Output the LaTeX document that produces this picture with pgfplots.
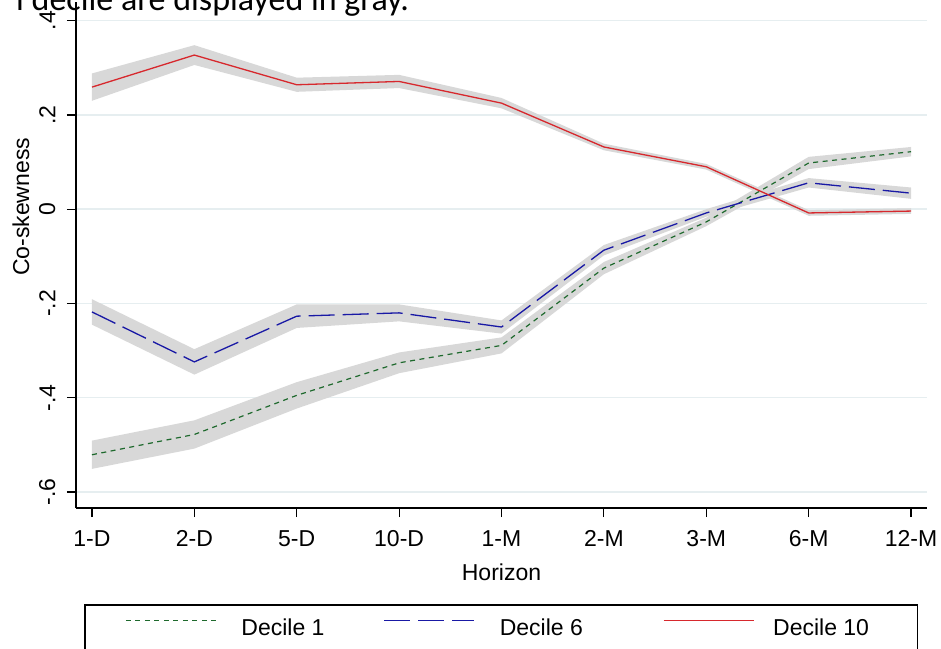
\documentclass[border=0pt]{standalone}
\usepackage{pgfplots}
\pgfplotsset{compat=1.18}
\usepackage{pgfplotstable}
\usepgfplotslibrary{fillbetween}
\usepackage{fontspec}
\setmainfont{Liberation Sans}
\newfontfamily\capfont{Carlito}
\definecolor{band}{RGB}{216,216,216}
\definecolor{gridc}{RGB}{230,238,240}
\definecolor{dgreen}{RGB}{30,105,45}
\definecolor{dblue}{RGB}{25,25,165}
\definecolor{dred}{RGB}{215,40,45}

\pgfplotstableread{
x r rl rh b bl bh g gl gh
0 0.259 0.230 0.288 -0.218 -0.245 -0.191 -0.521 -0.551 -0.491
1 0.327 0.306 0.348 -0.324 -0.351 -0.297 -0.478 -0.508 -0.448
2 0.264 0.249 0.279 -0.227 -0.252 -0.202 -0.395 -0.423 -0.367
3 0.271 0.257 0.285 -0.220 -0.238 -0.202 -0.326 -0.348 -0.304
4 0.225 0.214 0.236 -0.250 -0.264 -0.236 -0.289 -0.306 -0.272
5 0.132 0.125 0.139 -0.087 -0.098 -0.076 -0.125 -0.138 -0.112
6 0.090 0.084 0.096 -0.008 -0.016 0.000 -0.027 -0.036 -0.018
7 -0.008 -0.014 -0.002 0.056 0.046 0.066 0.098 0.085 0.111
8 -0.004 -0.010 0.002 0.034 0.022 0.046 0.122 0.112 0.132
}\data

\begin{document}
\begin{tikzpicture}
\begin{axis}[
  scale only axis, width=851pt, height=506pt,
  xmin=-0.156, xmax=8.156, ymin=-0.634, ymax=0.4396,
  axis lines*=left,
  xtick pos=bottom, ytick pos=left,
  axis line style={black, line width=1.3pt},
  tick align=outside, major tick length=9pt,
  tick style={black, line width=1.2pt},
  xtick={0,...,8},
  xticklabels={1-D,2-D,5-D,10-D,1-M,2-M,3-M,6-M,12-M},
  ytick={-0.6,-0.4,-0.2,0,0.2,0.4},
  yticklabels={-.6,-.4,-.2,0,.2,.4},
  ymajorgrids, grid style={gridc, line width=1.5pt},
  yticklabel style={rotate=90, anchor=south},
  xticklabel shift=10pt,
  yticklabel shift=8pt,
  tick label style={font=\fontsize{23}{27}\selectfont},
  label style={font=\fontsize{23}{27}\selectfont},
  xlabel={Horizon},
  xlabel style={yshift=-10pt},
  ylabel={Co-skewness},
  ylabel style={at={(rel axis cs:-0.0646,0.595)}, anchor=center},
  legend columns=3,
  legend image code/.code={\draw[#1] (0pt,7.5pt) -- (90pt,7.5pt);},
  legend style={at={(0.01058,-0.1917)}, anchor=north west, draw=none,
    name=leg, font=\fontsize{23}{27}\selectfont,
    inner xsep=40pt, inner ysep=14pt, nodes={inner sep=0pt},
    /tikz/column 1/.style={column sep=25pt},
    /tikz/column 2/.style={column sep=59pt},
    /tikz/column 3/.style={column sep=25pt},
    /tikz/column 4/.style={column sep=80pt},
    /tikz/column 5/.style={column sep=19pt}},
]
\addplot[draw=none, name path=rh, forget plot] table[x=x,y=rh]{\data};
\addplot[draw=none, name path=rl, forget plot] table[x=x,y=rl]{\data};
\addplot[band, forget plot] fill between[of=rh and rl];
\addplot[draw=none, name path=bh, forget plot] table[x=x,y=bh]{\data};
\addplot[draw=none, name path=bl, forget plot] table[x=x,y=bl]{\data};
\addplot[band, forget plot] fill between[of=bh and bl];
\addplot[draw=none, name path=gh, forget plot] table[x=x,y=gh]{\data};
\addplot[draw=none, name path=gl, forget plot] table[x=x,y=gl]{\data};
\addplot[band, forget plot] fill between[of=gh and gl];

\addplot[draw=dgreen, line width=1.2pt, dash pattern=on 5pt off 4.5pt] table[x=x,y=g]{\data};
\addlegendentry{Decile 1}
\addplot[draw=dblue, line width=1.3pt, dash pattern=on 26pt off 8pt] table[x=x,y=b]{\data};
\addlegendentry{Decile 6}
\addplot[draw=dred, line width=1.3pt] table[x=x,y=r]{\data};
\addlegendentry{Decile 10\rule{8pt}{0pt}}
\end{axis}
\draw[black, line width=1.3pt] (leg.south west) rectangle (leg.north east);
\node[anchor=base west, font=\capfont\fontsize{34}{40}\selectfont, inner sep=0pt] at (-60pt,497pt) {l decile are displayed in gray.};
\pgfresetboundingbox
\path[use as bounding box] (-76pt,-140pt) rectangle (865pt,508pt);
\end{tikzpicture}
\end{document}
